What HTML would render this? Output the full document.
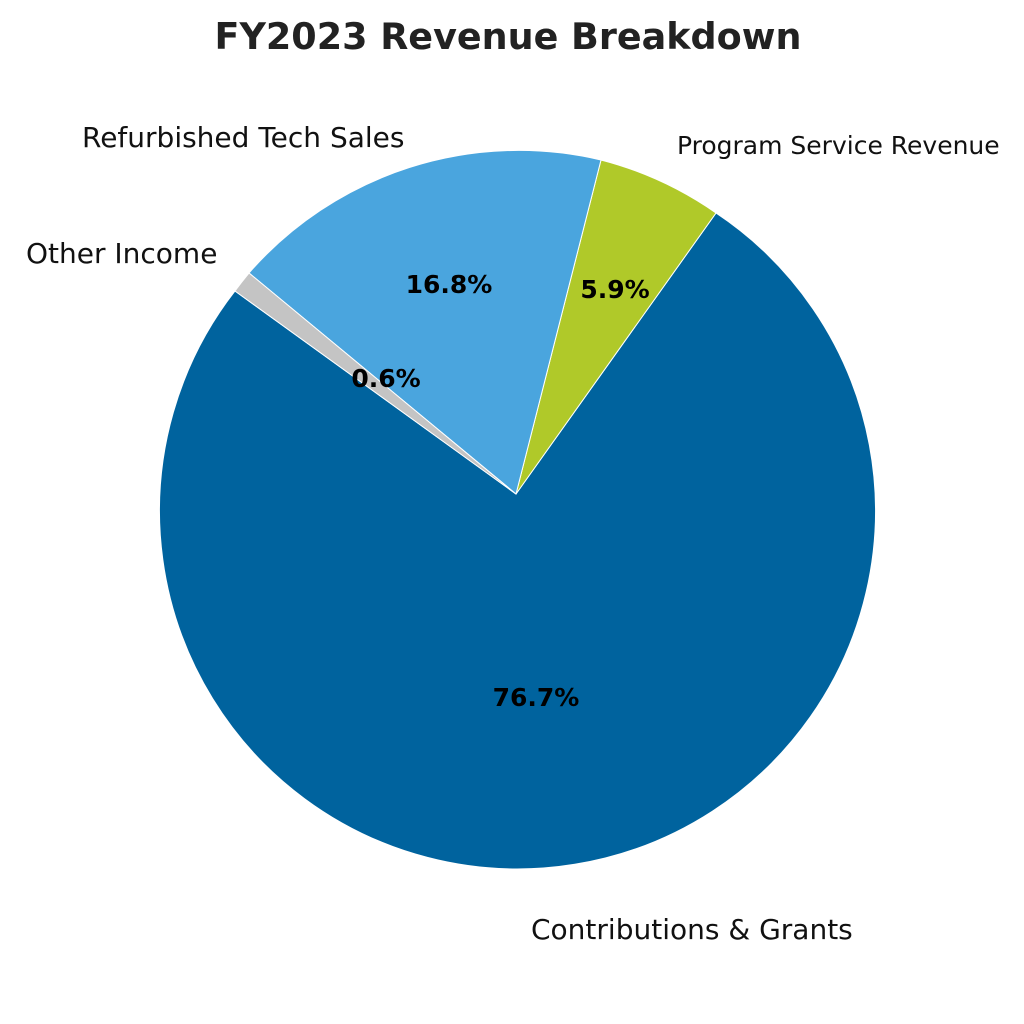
<!DOCTYPE html>
<html><head><meta charset="utf-8"><style>
html,body{margin:0;padding:0;background:#fff;}
svg{display:block;}
</style></head><body>
<svg width="1024" height="1024" viewBox="0 0 1024 1024" xmlns="http://www.w3.org/2000/svg" font-family="'DejaVu Sans','Liberation Sans',sans-serif">
<rect width="1024" height="1024" fill="#fff"/>
<text x="508" y="49" text-anchor="middle" font-size="36.5" font-weight="bold" fill="#222">FY2023 Revenue Breakdown</text>
<g stroke="#ffffff" stroke-width="1">
<path d="M516,494 L716,213 A358,358 0 1 1 235,291 Z" fill="#00639e"/>
<path d="M516,494 L601,160 A358,358 0 0 1 716,213 Z" fill="#b0c929"/>
<path d="M516,494 L249,273 A358,358 0 0 1 601,160 Z" fill="#4aa5de"/>
<path d="M516,494 L235,291 A358,358 0 0 1 249,273 Z" fill="#c4c4c4"/>
</g>
<g font-size="25" font-weight="bold" fill="#000" text-anchor="middle">
<text x="536" y="706">76.7%</text>
<text x="449" y="293">16.8%</text>
<text x="615" y="298">5.9%</text>
<text x="386" y="387">0.6%</text>
</g>
<g font-size="28" fill="#111">
<text x="82" y="147">Refurbished Tech Sales</text>
<text x="677" y="154" font-size="25">Program Service Revenue</text>
<text x="26" y="263">Other Income</text>
<text x="531" y="939">Contributions &amp; Grants</text>
</g>
</svg>
</body></html>
